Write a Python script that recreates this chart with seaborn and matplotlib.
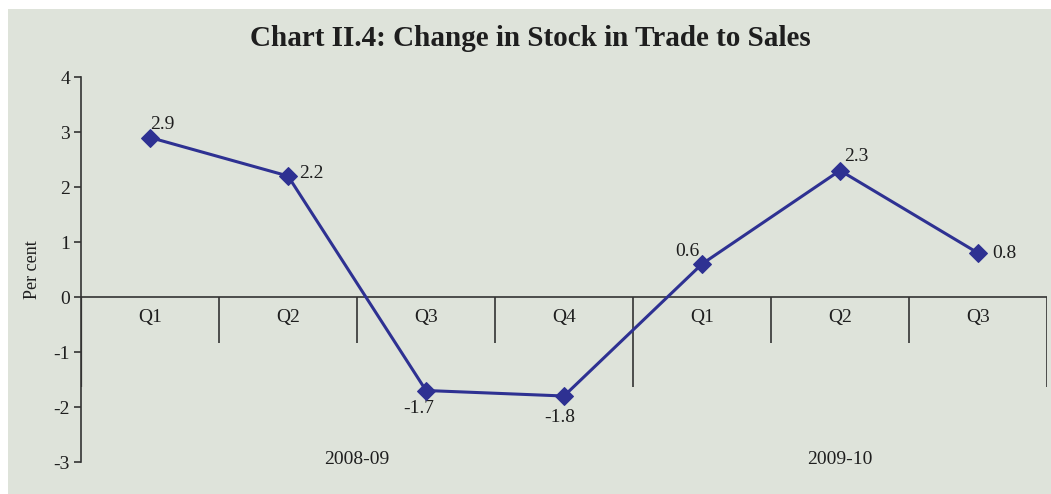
import numpy as np
import pandas as pd
import matplotlib
matplotlib.use("Agg")
import matplotlib.pyplot as plt
import seaborn as sns
from matplotlib.patches import Rectangle

# chart data
quarters = ["Q1", "Q2", "Q3", "Q4", "Q1", "Q2", "Q3"]
years = ["2008-09", "2009-10"]
year_sizes = [4, 3]
values = [2.9, 2.2, -1.7, -1.8, 0.6, 2.3, 0.8]
value_labels = ["2.9", "2.2", "-1.7", "-1.8", "0.6", "2.3", "0.8"]
y_ticks = [-3, -2, -1, 0, 1, 2, 3, 4]

# label offsets in points (dx, dy, ha, va)
label_pos = [(0, 3, "left", "bottom"), (8, 2, "left", "center"), (-5, -7, "center", "top"),
             (-3, -9, "center", "top"), (-2, 3, "right", "bottom"), (3, 4, "left", "bottom"),
             (10, 0, "left", "center")]

sns.set_style("white")
plt.rcParams["font.family"] = ["Liberation Serif", "DejaVu Serif"]

bg = "#dee3da"
line_col = "#2e3192"
txt = "#1e1e1e"
fs = 14

fig = plt.figure(figsize=(10.51, 4.94), dpi=100, facecolor="white")
fig.patches.append(Rectangle((8 / 1051, 0), 1, (494 - 9) / 494, transform=fig.transFigure,
                             facecolor=bg, edgecolor="none", zorder=-10))
ax = fig.add_axes([81 / 1051, 1 - 462 / 494, (1047 - 81) / 1051, (462 - 77) / 494])
ax.set_facecolor("none")

df = pd.DataFrame({"pos": np.arange(len(values)), "value": values})
sns.lineplot(data=df, x="pos", y="value", ax=ax, color=line_col, linewidth=2.2,
             marker="D", markersize=9, markeredgecolor=line_col, clip_on=False, zorder=5)

for i, (v, t) in enumerate(zip(values, value_labels)):
    dx, dy, ha, va = label_pos[i]
    ax.annotate(t, (i, v), xytext=(dx, dy), textcoords="offset points", ha=ha, va=va,
                fontsize=fs, color=txt)

n = len(quarters)
ax.set_xlim(-0.5, n - 0.5)
ax.set_ylim(-3, 4)
ax.set_yticks(y_ticks)
ax.set_yticklabels([str(t) for t in y_ticks], fontsize=fs, color=txt)
ax.set_xticks([])
ax.set_xlabel("")
ax.set_ylabel("Per cent", fontsize=13, color=txt, labelpad=9)
ax.tick_params(axis="y", direction="out", length=5, width=1.2, color="#333333", pad=3, left=True)

for s in ["top", "right", "bottom"]:
    ax.spines[s].set_visible(False)
ax.spines["left"].set_color("#333333")
ax.spines["left"].set_linewidth(1.2)

# category axis at zero
ax.axhline(0, color="#333333", linewidth=1.2, zorder=2)
for i, q in enumerate(quarters):
    ax.text(i, -0.38, q, ha="center", va="center", fontsize=fs, color=txt)

year_edges = np.cumsum([0] + year_sizes) - 0.5
for b in range(1, n + 1):
    x = b - 0.5
    bottom = -1.64 if x in year_edges else -0.84
    ax.vlines(x, bottom, 0, color="#333333", linewidth=1.2, zorder=2)
ax.vlines(-0.5, -1.64, 0, color="#333333", linewidth=1.6, zorder=2)

for k, yr in enumerate(years):
    mid = (year_edges[k] + year_edges[k + 1]) / 2
    ax.text(mid, -2.95, yr, ha="center", va="center", fontsize=fs, color=txt)

fig.text(530 / 1051, 1 - 38 / 494, "Chart II.4: Change in Stock in Trade to Sales",
         ha="center", va="center", fontsize=21, fontweight="bold", color=txt)

fig.savefig("out.png", dpi=100, facecolor=fig.get_facecolor())
